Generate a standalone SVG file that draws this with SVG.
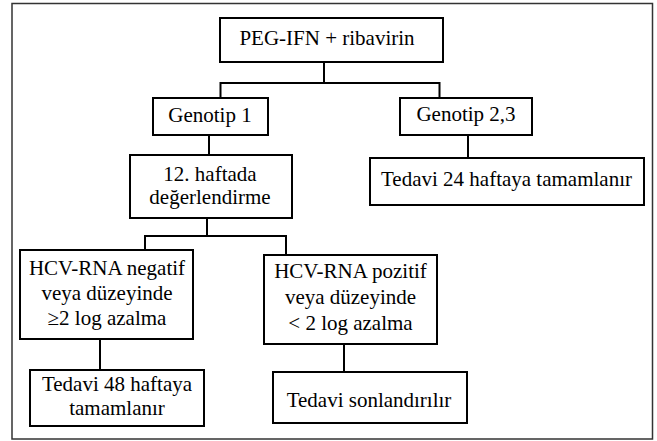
<svg xmlns="http://www.w3.org/2000/svg" width="657" height="441" viewBox="0 0 657 441">
<style>
.box{fill:#fff;stroke:#000;stroke-width:2}
.frame{fill:#fff;stroke:#333;stroke-width:1.5}
.conn{fill:none;stroke:#000;stroke-width:2}
.t{font-family:'Liberation Serif','Times New Roman',serif;font-size:21px;fill:#000;text-anchor:middle}
</style>
<rect class="frame" x="12" y="3.5" width="640.5" height="435.5"/>
<g id="connectors">
<path class="conn" d="M324 62 V83 M220.5 83 H439.5 M220.5 82 V98 M439.5 82 V98"/>
<path class="conn" d="M209 135 V155"/>
<path class="conn" d="M468 135 V158"/>
<path class="conn" d="M207 218 V236 M145 236 H286 M145 235 V250 M286 235 V255"/>
<path class="conn" d="M100 339 V370"/>
<path class="conn" d="M344 344 V372"/>
</g>
<g id="n_peg"><rect class="box" x="220" y="18" width="223" height="44"/><text class="t" x="327" y="45">PEG-IFN + ribavirin</text></g>
<g id="n_g1"><rect class="box" x="153" y="98" width="115" height="37"/><text class="t" x="210" y="121.5">Genotip 1</text></g>
<g id="n_g23"><rect class="box" x="400" y="98" width="132" height="37"/><text class="t" x="466" y="121">Genotip 2,3</text></g>
<g id="n_hafta"><rect class="box" x="130" y="155" width="162" height="63"/><text class="t" x="210" y="181">12. haftada</text><text class="t" x="210" y="204">değerlendirme</text></g>
<g id="n_t24"><rect class="box" x="370" y="158" width="274" height="47"/><text class="t" x="506.5" y="186">Tedavi 24 haftaya tamamlanır</text></g>
<g id="n_neg"><rect class="box" x="20" y="250" width="173" height="89"/><text class="t" x="107" y="275">HCV-RNA negatif</text><text class="t" x="107" y="300">veya düzeyinde</text><text class="t" x="107" y="325">≥2 log azalma</text></g>
<g id="n_pos"><rect class="box" x="264" y="255" width="173" height="89"/><text class="t" x="350.5" y="278">HCV-RNA pozitif</text><text class="t" x="350.5" y="304">veya düzeyinde</text><text class="t" x="350.5" y="330">&lt; 2 log azalma</text></g>
<g id="n_t48"><rect class="box" x="30" y="370" width="174" height="56"/><text class="t" x="117" y="391">Tedavi 48 haftaya</text><text class="t" x="117" y="415">tamamlanır</text></g>
<g id="n_son"><rect class="box" x="273" y="372" width="194" height="51"/><text class="t" x="369" y="407">Tedavi sonlandırılır</text></g>
</svg>
